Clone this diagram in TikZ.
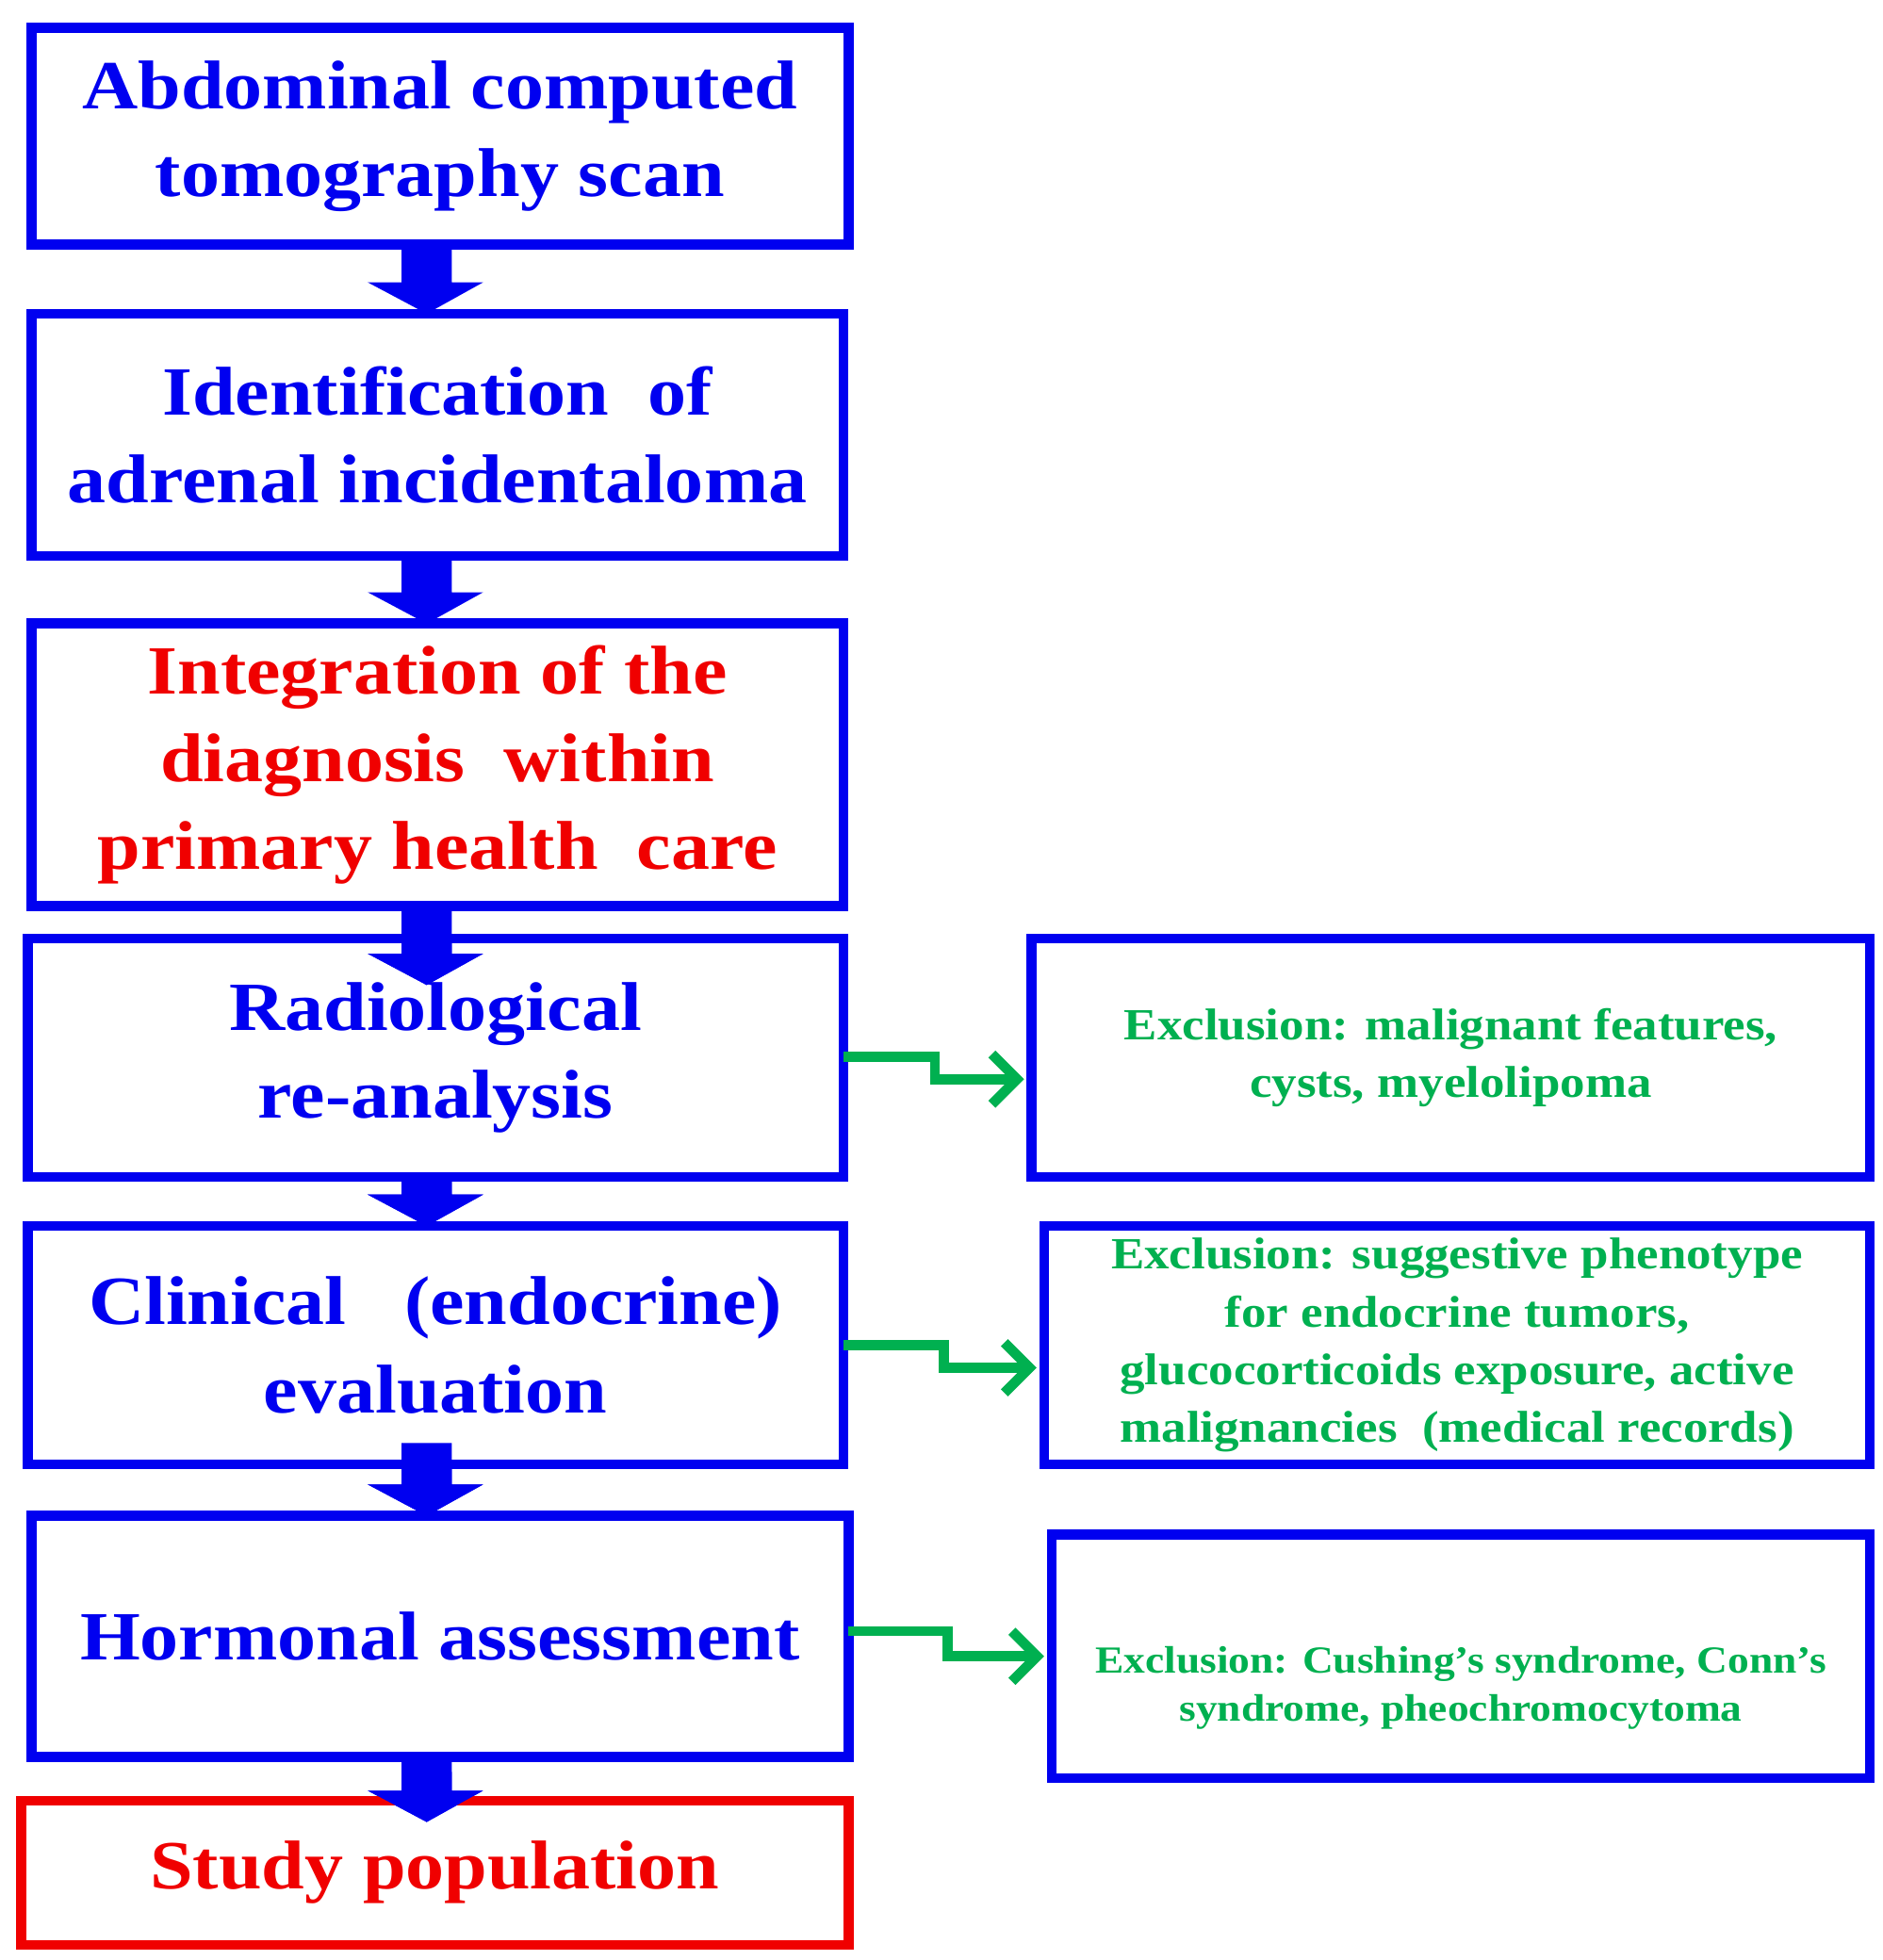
\documentclass[tikz,border=0pt]{standalone}
\usepackage{fontspec}
\setmainfont[FakeStretch=1.12]{Liberation Serif}
\usetikzlibrary{arrows.meta}
\definecolor{bb}{RGB}{0,0,240}
\definecolor{gg}{RGB}{0,176,80}
\definecolor{rr}{RGB}{240,0,0}
\begin{document}
\begin{tikzpicture}[x=1pt,y=-1pt,
 box/.style={draw=bb,line width=8pt},
 btxt/.style={text=bb,align=center,font=\bfseries\fontsize{55}{70}\selectfont},
 gtxt/.style={text=gg,align=center,font=\bfseries\fontsize{35.5}{46}\selectfont},
 garr/.style={draw=gg,line width=8pt,-{Straight Barb[length=20pt,width=40pt,line width=8pt]}}]
\useasboundingbox (0,0) rectangle (1500,1562);
\fill[white] (0,0) rectangle (1500,1562);
\foreach \t/\b in {195/250,443/497,722/785,938/977,1150/1208,1400/1452}{
 \fill[bb] (320,\t) -- (360,\t) -- (360,\b-25) -- (385,\b-25) -- (340,\b) -- (293,\b-25) -- (320,\b-25) -- cycle;}
\draw[box] (25,22) rectangle (676,195) node[midway,btxt] (b1) {Abdominal computed\\tomography scan};
\draw[box] (25,250) rectangle (672,443) node[midway,btxt] (b2) {Identification\ \ of\\adrenal incidentaloma};
\draw[box] (25,497) rectangle (672,722) node[midway,btxt,text=rr] (b3) {Integration of the\\diagnosis\ \ within\\primary health\ \ care};
\draw[box] (22,748) rectangle (672,938) node[midway,btxt] (b4) {Radiological\\re-analysis};
\draw[box] (22,977) rectangle (672,1167) node[midway,btxt] (b5) {Clinical\ \ \ (endocrine)\\evaluation};
\draw[box] (25,1208) rectangle (676,1400) node[midway,btxt] (b6) {Hormonal assessment};
\draw[box,draw=rr] (17,1435) rectangle (676,1550) node[midway,btxt,text=rr] (b7) {Study population};
\foreach \t/\b in {722/785,938/977,1150/1208,1400/1452}{
 \fill[bb] (320,\b-40) -- (360,\b-40) -- (360,\b-25) -- (385,\b-25) -- (340,\b) -- (293,\b-25) -- (320,\b-25) -- cycle;}
\draw[box] (822,748) rectangle (1490,938) node[midway,gtxt] (r1) {Exclusion: malignant features,\\cysts, myelolipoma};
\draw[box] (832,977) rectangle (1490,1167) node[midway,gtxt] (r2) {Exclusion: suggestive phenotype\\for endocrine tumors,\\glucocorticoids exposure, active\\malignancies\ \ (medical records)};
\draw[box] (838,1223) rectangle (1490,1417) node[midway,gtxt,yshift=-25pt,font=\bfseries\fontsize{30.5}{38}\selectfont] (r3) {Exclusion: Cushing’s syndrome, Conn’s\\syndrome, pheochromocytoma};
\coordinate (s1) at (672,842); \coordinate (e1) at (816,860);
\coordinate (s2) at (672,1072); \coordinate (e2) at (826,1090);
\coordinate (s3) at (676,1300); \coordinate (e3) at (832,1320);
\draw[garr] (s1) -- (745,842) -- (745,860) -- (e1);
\draw[garr] (s2) -- (752,1072) -- (752,1090) -- (e2);
\draw[garr] (s3) -- (755,1300) -- (755,1320) -- (e3);
\end{tikzpicture}
\end{document}
